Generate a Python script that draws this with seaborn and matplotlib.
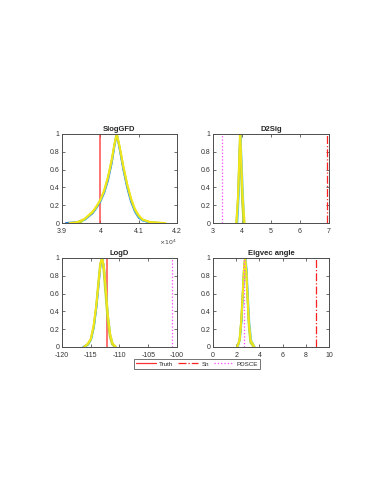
import numpy as np
import pandas as pd
import matplotlib
matplotlib.use("Agg")
import matplotlib.pyplot as plt
import seaborn as sns
from matplotlib.lines import Line2D

# Panel titles
titles = ["SlogGFD", "D2Sig", "LogD", "Eigvec angle"]

# Curve colours (parula-like), drawn in this order
curve_colors = ["#2f7fd0", "#5cc8e0", "#b8d63a", "#f2e61a"]

# SlogGFD (x in units of 1e4)
slog_x = [
    [3.91, 3.94, 3.96, 3.98, 3.99, 4.00, 4.01, 4.02, 4.03, 4.037, 4.043, 4.05, 4.06, 4.07, 4.08, 4.09, 4.10, 4.11, 4.13, 4.15],
    [3.92, 3.94, 3.96, 3.98, 3.99, 4.00, 4.01, 4.02, 4.03, 4.037, 4.043, 4.05, 4.06, 4.07, 4.08, 4.09, 4.10, 4.11, 4.13, 4.16],
    [3.93, 3.95, 3.96, 3.98, 3.99, 4.00, 4.01, 4.02, 4.03, 4.037, 4.042, 4.05, 4.06, 4.07, 4.08, 4.09, 4.10, 4.11, 4.13, 4.16],
    [3.92, 3.94, 3.96, 3.98, 3.99, 4.00, 4.01, 4.02, 4.03, 4.037, 4.043, 4.05, 4.06, 4.07, 4.08, 4.09, 4.10, 4.11, 4.13, 4.17],
]
slog_y = [
    [0.0, 0.01, 0.04, 0.11, 0.17, 0.24, 0.34, 0.48, 0.68, 0.87, 1.0, 0.84, 0.60, 0.40, 0.24, 0.13, 0.06, 0.03, 0.005, 0.0],
    [0.0, 0.01, 0.04, 0.12, 0.18, 0.25, 0.35, 0.50, 0.70, 0.88, 1.0, 0.85, 0.62, 0.42, 0.26, 0.14, 0.07, 0.03, 0.005, 0.0],
    [0.0, 0.01, 0.05, 0.12, 0.18, 0.26, 0.36, 0.51, 0.71, 0.89, 1.0, 0.86, 0.63, 0.43, 0.27, 0.15, 0.08, 0.04, 0.01, 0.0],
    [0.0, 0.01, 0.05, 0.13, 0.19, 0.26, 0.37, 0.52, 0.72, 0.89, 1.0, 0.87, 0.64, 0.44, 0.28, 0.16, 0.09, 0.04, 0.01, 0.0],
]

# D2Sig
d2_x = [
    [3.82, 3.87, 3.91, 3.94, 3.97, 4.01, 4.06],
    [3.84, 3.89, 3.92, 3.95, 3.98, 4.03, 4.08],
    [3.80, 3.86, 3.90, 3.93, 3.96, 4.00, 4.05],
    [3.81, 3.87, 3.91, 3.94, 3.97, 4.02, 4.09],
]
d2_y = [
    [0.0, 0.30, 0.72, 1.0, 0.72, 0.30, 0.0],
    [0.0, 0.32, 0.70, 0.98, 0.75, 0.35, 0.0],
    [0.0, 0.28, 0.70, 1.0, 0.70, 0.28, 0.0],
    [0.0, 0.34, 0.74, 1.0, 0.74, 0.32, 0.0],
]

# LogD
logd_x = [
    [-116.3, -115.5, -115.0, -114.5, -114.0, -113.6, -113.3, -113.0, -112.7, -112.4, -112.0, -111.6, -111.2, -110.6],
    [-116.0, -115.4, -114.9, -114.4, -114.0, -113.6, -113.3, -113.0, -112.7, -112.4, -112.0, -111.6, -111.2, -110.7],
    [-116.2, -115.5, -115.0, -114.5, -114.1, -113.7, -113.4, -113.1, -112.8, -112.5, -112.1, -111.7, -111.3, -110.8],
    [-116.1, -115.5, -115.0, -114.5, -114.0, -113.6, -113.3, -113.0, -112.7, -112.4, -112.0, -111.6, -111.2, -110.6],
]
logd_y = [
    [0.0, 0.03, 0.08, 0.22, 0.45, 0.72, 0.92, 1.0, 0.88, 0.64, 0.32, 0.12, 0.03, 0.0],
    [0.0, 0.03, 0.09, 0.24, 0.47, 0.74, 0.93, 1.0, 0.90, 0.66, 0.34, 0.13, 0.04, 0.0],
    [0.0, 0.03, 0.08, 0.22, 0.44, 0.72, 0.92, 1.0, 0.88, 0.64, 0.32, 0.12, 0.03, 0.0],
    [0.0, 0.04, 0.09, 0.25, 0.48, 0.75, 0.94, 1.0, 0.90, 0.67, 0.35, 0.14, 0.04, 0.0],
]

# Eigvec angle
eig_x = [
    [2.10, 2.30, 2.45, 2.58, 2.68, 2.78, 2.88, 2.98, 3.10, 3.25, 3.55],
    [2.15, 2.33, 2.48, 2.60, 2.70, 2.80, 2.90, 3.00, 3.13, 3.30, 3.60],
    [2.05, 2.27, 2.42, 2.55, 2.66, 2.76, 2.86, 2.96, 3.08, 3.22, 3.50],
    [2.10, 2.30, 2.45, 2.58, 2.68, 2.77, 2.87, 2.97, 3.10, 3.26, 3.58],
]
eig_y = [
    [0.0, 0.08, 0.30, 0.62, 0.88, 1.0, 0.86, 0.58, 0.26, 0.06, 0.0],
    [0.0, 0.09, 0.32, 0.64, 0.90, 1.0, 0.88, 0.60, 0.28, 0.07, 0.0],
    [0.0, 0.07, 0.28, 0.60, 0.87, 1.0, 0.85, 0.56, 0.24, 0.05, 0.0],
    [0.0, 0.08, 0.31, 0.63, 0.89, 1.0, 0.87, 0.59, 0.27, 0.07, 0.0],
]

curves_x = [slog_x, d2_x, logd_x, eig_x]
curves_y = [slog_y, d2_y, logd_y, eig_y]

# reference lines per panel (None = outside view)
truth_vals = [4.0, None, -112.2, None]
sn_vals = [None, 6.92, None, 8.89]
pdsce_vals = [None, 3.31, -100.9, 2.66]

xlims = [(3.9, 4.2), (3, 7), (-120, -100), (0, 10)]
xticks = [
    [3.9, 4.0, 4.1, 4.2],
    [3, 4, 5, 6, 7],
    [-120, -115, -110, -105, -100],
    [0, 2, 4, 6, 8, 10],
]
xticklabels = [
    ["3.9", "4", "4.1", "4.2"],
    ["3", "4", "5", "6", "7"],
    ["-120", "-115", "-110", "-105", "-100"],
    ["0", "2", "4", "6", "8", "10"],
]
yticks = [0, 0.2, 0.4, 0.6, 0.8, 1.0]
yticklabels = ["0", "0.2", "0.4", "0.6", "0.8", "1"]

sns.set_style("white")
plt.rcParams["font.family"] = ["Liberation Sans", "DejaVu Sans"]

fig = plt.figure(figsize=(3.79, 4.91), dpi=100)
positions = [
    [0.1636, 0.5458, 0.3034, 0.1813],
    [0.562, 0.5458, 0.306, 0.1813],
    [0.1636, 0.2933, 0.3034, 0.1813],
    [0.562, 0.2933, 0.306, 0.1813],
]

for i, pos in enumerate(positions):
    ax = fig.add_axes(pos)
    if truth_vals[i] is not None:
        ax.axvline(truth_vals[i], color="#ff4040", lw=1.3, zorder=1, alpha=0.8)
    rows = []
    for k, (xs, ys) in enumerate(zip(curves_x[i], curves_y[i])):
        for x, y in zip(xs, ys):
            rows.append({"x": x, "y": y, "run": k})
    df = pd.DataFrame(rows)
    sns.lineplot(data=df, x="x", y="y", hue="run", palette=curve_colors,
                 lw=1.4, legend=False, ax=ax, estimator=None, sort=False,
                 zorder=2)
    if sn_vals[i] is not None:
        ax.axvline(sn_vals[i], color="#ff2020", lw=0.9, ls="-.", zorder=3)
    if pdsce_vals[i] is not None:
        ax.axvline(pdsce_vals[i], color="#ff44ff", lw=0.9, ls=":", zorder=3)

    ax.set_xlim(*xlims[i])
    ax.set_ylim(0, 1)
    ax.set_xticks(xticks[i])
    ax.set_xticklabels(xticklabels[i])
    ax.set_yticks(yticks)
    ax.set_yticklabels(yticklabels)
    ax.set_xlabel("")
    ax.set_ylabel("")
    ax.set_title(titles[i], fontsize=5.5, fontweight="bold", pad=2)
    ax.tick_params(direction="in", length=2, width=0.5, labelsize=5,
                   colors="0.2", top=True, right=True, pad=2,
                   bottom=True, left=True)
    ax.tick_params(axis="x", pad=3.5)
    for s in ax.spines.values():
        s.set_color("0.3")
        s.set_linewidth(0.7)
    if i == 0:
        ax.text(1.0, -0.17, r"$\times10^4$", transform=ax.transAxes,
                ha="right", va="top", fontsize=4.5, color="0.25")

handles = [
    Line2D([], [], color="#ff3030", lw=0.9, ls="-"),
    Line2D([], [], color="#ff2020", lw=0.9, ls="-."),
    Line2D([], [], color="#ff44ff", lw=0.9, ls=":"),
]
leg = fig.legend(handles, ["Truth", "Sn", "PDSCE"], loc="center",
                 bbox_to_anchor=(0.52, 0.2587), ncol=3, fontsize=4.5,
                 frameon=True, fancybox=False, handlelength=3.2,
                 columnspacing=0.8, handletextpad=0.5, borderpad=0.3)
leg.get_frame().set_edgecolor("0.2")
leg.get_frame().set_linewidth(0.6)

fig.savefig("out.png", dpi=100)
